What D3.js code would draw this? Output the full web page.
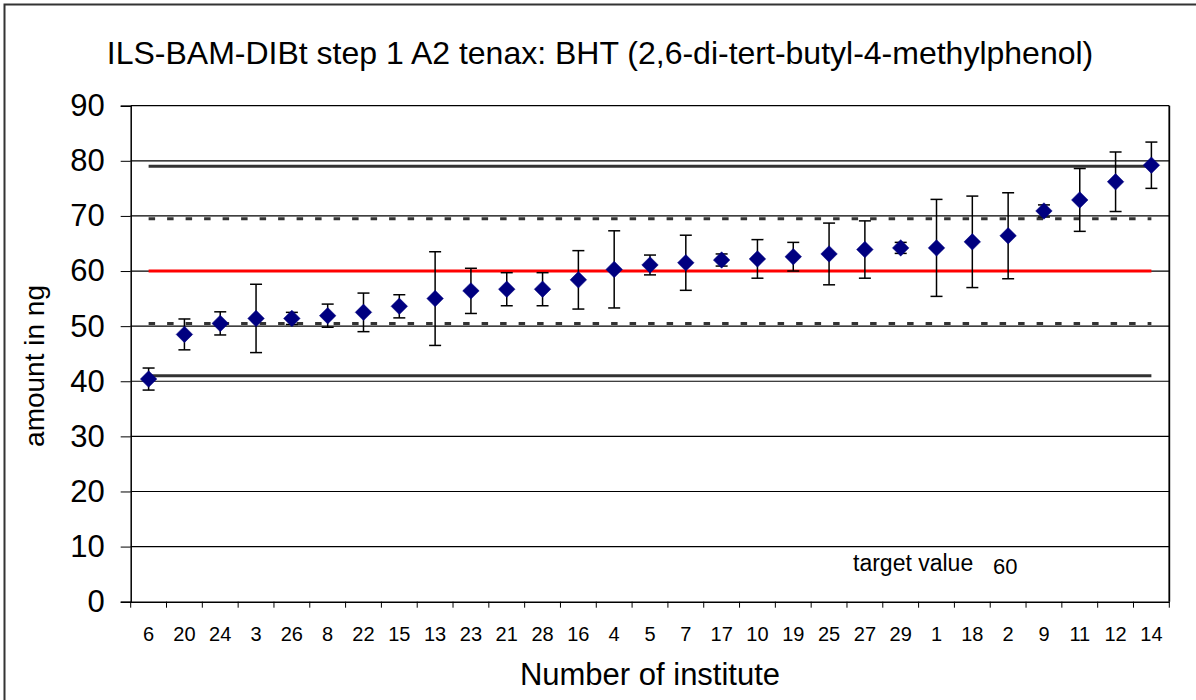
<!DOCTYPE html>
<html>
<head>
<meta charset="utf-8">
<script src="https://cdn.jsdelivr.net/npm/d3@7/dist/d3.min.js"></script>
<style>
  html, body { margin: 0; padding: 0; background: #fff; }
  svg { display: block; font-family: Arial, "Liberation Sans", sans-serif; }
</style>
</head>
<body>
<svg id="chart" width="1196" height="700"></svg>
<script>
// Institutes in ascending order of their reported mean
const institutes = ["6","20","24","3","26","8","22","15","13","23","21","28","16","4","5","7",
                    "17","10","19","25","27","29","1","18","2","9","11","12","14"];
// Mean amount (ng) per institute
const means = [40.4, 48.5, 50.5, 51.4, 51.4, 51.9, 52.5, 53.6, 55.0, 56.4, 56.7, 56.7, 58.4, 60.3,
               61.1, 61.5, 62.0, 62.2, 62.6, 63.1, 63.9, 64.2, 64.2, 65.3, 66.4, 70.9, 72.9, 76.2, 79.2];
// Half-width of each error bar (ng)
const errors = [2.0, 2.8, 2.1, 6.2, 1.1, 2.1, 3.5, 2.1, 8.5, 4.1, 3.0, 3.0, 5.3, 7.0,
                1.8, 5.0, 1.1, 3.5, 2.6, 5.6, 5.2, 1.0, 8.8, 8.3, 7.8, 1.1, 5.7, 5.4, 4.2];
const yTicks = [0, 10, 20, 30, 40, 50, 60, 70, 80, 90];
const targetValue = 60;
const innerLimits = [50.5, 69.5];
const outerLimits = [41, 79];

(function () {
const svg = d3.select("#chart");
const font = "Arial, 'Liberation Sans', sans-serif";

// outer frame of the chart
svg.append("rect")
  .attr("x", 4.5).attr("y", 4.5).attr("width", 1220).attr("height", 720)
  .attr("fill", "none").attr("stroke", "#333").attr("stroke-width", 2);

const pLeft = 130.7, pRight = 1169.3, pTop = 105.7, pBottom = 601.7;
const x = d3.scaleBand().domain(institutes).range([pLeft, pRight]).padding(0);
const y = d3.scaleLinear().domain([0, 90]).range([pBottom, pTop]);

// horizontal gridlines
svg.append("g").selectAll("line").data(yTicks.filter(t => t > 0)).join("line")
  .attr("x1", pLeft).attr("x2", pRight)
  .attr("y1", d => y(d)).attr("y2", d => y(d))
  .attr("stroke", "#000").attr("stroke-width", 1.2);

// y axis with ticks pointing left
const yAxis = svg.append("g").attr("transform", `translate(${pLeft},0)`)
  .call(d3.axisLeft(y).tickValues(yTicks).tickSize(10).tickPadding(16));
yAxis.select(".domain").attr("stroke", "#000").attr("stroke-width", 1.5);
yAxis.selectAll(".tick line").attr("stroke", "#000").attr("stroke-width", 1);
yAxis.selectAll(".tick text").attr("font-size", 31).attr("fill", "#000")
  .attr("font-family", font);

// x axis: ticks at category boundaries
const xAxis = svg.append("g").attr("transform", `translate(0,${pBottom})`)
  .call(d3.axisBottom(x).tickSize(0).tickPadding(25));
xAxis.select(".domain").attr("stroke", "#000").attr("stroke-width", 1.5);
xAxis.selectAll(".tick text").attr("font-size", 20).attr("fill", "#000")
  .attr("font-family", font);
const bounds = institutes.map(d => x(d)).concat([pRight]);
svg.append("g").selectAll("line").data(bounds).join("line")
  .attr("x1", d => d).attr("x2", d => d)
  .attr("y1", pBottom).attr("y2", pBottom + 6)
  .attr("stroke", "#000").attr("stroke-width", 1);

// right frame of the plot area
svg.append("line").attr("x1", pRight).attr("x2", pRight).attr("y1", pTop).attr("y2", pBottom)
  .attr("stroke", "#000").attr("stroke-width", 1.8);

// limit lines spanning first to last institute
const xStart = x(institutes[0]) + x.bandwidth() / 2;
const xEnd = x(institutes[institutes.length - 1]) + x.bandwidth() / 2;
const refLines = [
  ...outerLimits.map(v => ({ v, color: "#333", dash: null })),
  ...innerLimits.map(v => ({ v, color: "#333", dash: "6.5,12" })),
  { v: targetValue, color: "#ff0000", dash: null }
];
svg.append("g").selectAll("line").data(refLines).join("line")
  .attr("x1", xStart).attr("x2", xEnd)
  .attr("y1", d => y(d.v)).attr("y2", d => y(d.v))
  .attr("stroke", d => d.color).attr("stroke-width", 3)
  .attr("stroke-dasharray", d => d.dash);

// error bars
const data = institutes.map((k, i) => ({ k, m: means[i], e: errors[i] }));
const cx = d => x(d.k) + x.bandwidth() / 2;
const eb = svg.append("g").attr("stroke", "#000").attr("stroke-width", 1.5);
eb.selectAll("line.v").data(data).join("line").attr("class", "v")
  .attr("x1", cx).attr("x2", cx)
  .attr("y1", d => y(d.m + d.e)).attr("y2", d => y(d.m - d.e));
eb.selectAll("line.t").data(data).join("line").attr("class", "t")
  .attr("x1", d => cx(d) - 6).attr("x2", d => cx(d) + 6)
  .attr("y1", d => y(d.m + d.e)).attr("y2", d => y(d.m + d.e));
eb.selectAll("line.b").data(data).join("line").attr("class", "b")
  .attr("x1", d => cx(d) - 6).attr("x2", d => cx(d) + 6)
  .attr("y1", d => y(d.m - d.e)).attr("y2", d => y(d.m - d.e));

// mean markers (diamonds)
const diamond = d3.symbol().type(d3.symbolSquare).size(136);
svg.append("g").selectAll("path").data(data).join("path")
  .attr("d", diamond)
  .attr("transform", d => `translate(${cx(d)},${y(d.m)}) rotate(45)`)
  .attr("fill", "#000080").attr("stroke", "#000080").attr("stroke-width", 0.5);

// texts
svg.append("text").attr("x", 600).attr("y", 64).attr("text-anchor", "middle")
  .attr("font-size", 32).text("ILS-BAM-DIBt step 1 A2 tenax: BHT (2,6-di-tert-butyl-4-methylphenol)");
svg.append("text").attr("x", 650).attr("y", 685).attr("text-anchor", "middle")
  .attr("font-size", 31).text("Number of institute");
svg.append("text").attr("transform", "translate(44,366) rotate(-90)").attr("text-anchor", "middle")
  .attr("font-size", 28).text("amount in ng");
svg.append("text").attr("x", 853).attr("y", 571).attr("font-size", 23)
  .text("target value");
svg.append("text").attr("x", 993).attr("y", 574).attr("font-size", 22).text(String(targetValue));
})();
</script>
</body>
</html>
